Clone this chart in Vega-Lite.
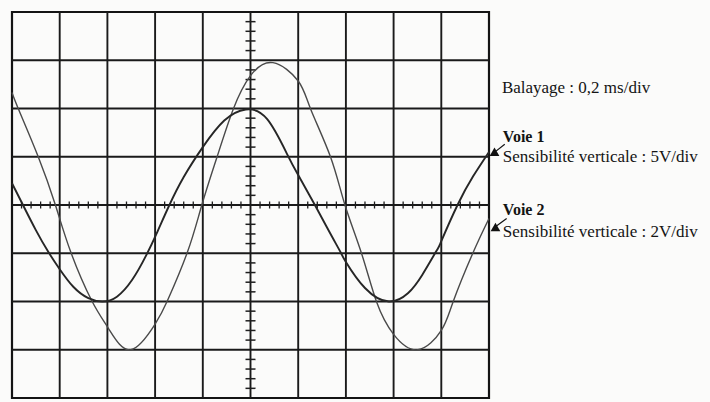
{
  "$schema": "https://vega.github.io/schema/vega-lite/v6.json",
  "width": 477,
  "height": 386,
  "autosize": "none",
  "padding": {"left": 12, "top": 12, "right": 221, "bottom": 4},
  "background": "#fbfbfa",
  "config": {"view": {"stroke": "#141414", "strokeWidth": 2.2}},
  "datasets": {
    "one": [{"k": 1}],
    "voie1": [
      {"t": 0, "u": 0.45}, {"t": 0.23, "u": 0}, {"t": 0.5, "u": -0.52}, {"t": 0.76, "u": -0.97},
      {"t": 1.0, "u": -1.33}, {"t": 1.29, "u": -1.7}, {"t": 1.6, "u": -1.93}, {"t": 1.9, "u": -2.0},
      {"t": 2.2, "u": -1.9}, {"t": 2.52, "u": -1.55}, {"t": 2.81, "u": -1.05}, {"t": 3.05, "u": -0.55},
      {"t": 3.3, "u": 0}, {"t": 3.6, "u": 0.58}, {"t": 4.0, "u": 1.2}, {"t": 4.45, "u": 1.75},
      {"t": 4.9, "u": 1.98}, {"t": 5.35, "u": 1.78}, {"t": 5.77, "u": 1.05}, {"t": 6.0, "u": 0.62},
      {"t": 6.35, "u": 0}, {"t": 6.65, "u": -0.55}, {"t": 6.9, "u": -1.0}, {"t": 7.0, "u": -1.18},
      {"t": 7.4, "u": -1.72}, {"t": 7.9, "u": -2.0}, {"t": 8.3, "u": -1.83}, {"t": 8.6, "u": -1.45},
      {"t": 8.9, "u": -0.95}, {"t": 9.0, "u": -0.75}, {"t": 9.34, "u": 0}, {"t": 9.67, "u": 0.6},
      {"t": 10, "u": 1.1}
    ],
    "voie2": [
      {"t": 0, "u": 2.33}, {"t": 0.13, "u": 2.0}, {"t": 0.55, "u": 1.0}, {"t": 0.91, "u": 0},
      {"t": 1.23, "u": -0.97}, {"t": 1.67, "u": -1.98}, {"t": 2.03, "u": -2.57}, {"t": 2.49, "u": -3.0},
      {"t": 3.0, "u": -2.47}, {"t": 3.26, "u": -1.98}, {"t": 3.68, "u": -0.97}, {"t": 3.98, "u": 0},
      {"t": 4.3, "u": 1.0}, {"t": 4.64, "u": 1.99}, {"t": 5.0, "u": 2.68}, {"t": 5.47, "u": 2.95},
      {"t": 6.0, "u": 2.57}, {"t": 6.26, "u": 1.99}, {"t": 6.68, "u": 0.99}, {"t": 6.98, "u": 0},
      {"t": 7.33, "u": -1.01}, {"t": 7.64, "u": -2.0}, {"t": 8.0, "u": -2.68}, {"t": 8.51, "u": -3.0},
      {"t": 9.0, "u": -2.6}, {"t": 9.25, "u": -2.0}, {"t": 9.66, "u": -1.0}, {"t": 10, "u": -0.28}
    ],
    "xt": [
      {"t": 0.2}, {"t": 0.4}, {"t": 0.6}, {"t": 0.8}, {"t": 1.2}, {"t": 1.4}, {"t": 1.6}, {"t": 1.8},
      {"t": 2.2}, {"t": 2.4}, {"t": 2.6}, {"t": 2.8}, {"t": 3.2}, {"t": 3.4}, {"t": 3.6}, {"t": 3.8},
      {"t": 4.2}, {"t": 4.4}, {"t": 4.6}, {"t": 4.8}, {"t": 5.2}, {"t": 5.4}, {"t": 5.6}, {"t": 5.8},
      {"t": 6.2}, {"t": 6.4}, {"t": 6.6}, {"t": 6.8}, {"t": 7.2}, {"t": 7.4}, {"t": 7.6}, {"t": 7.8},
      {"t": 8.2}, {"t": 8.4}, {"t": 8.6}, {"t": 8.8}, {"t": 9.2}, {"t": 9.4}, {"t": 9.6}, {"t": 9.8}
    ],
    "yt": [
      {"t": -3.8}, {"t": -3.6}, {"t": -3.4}, {"t": -3.2}, {"t": -2.8}, {"t": -2.6}, {"t": -2.4}, {"t": -2.2},
      {"t": -1.8}, {"t": -1.6}, {"t": -1.4}, {"t": -1.2}, {"t": -0.8}, {"t": -0.6}, {"t": -0.4}, {"t": -0.2},
      {"t": 0.2}, {"t": 0.4}, {"t": 0.6}, {"t": 0.8}, {"t": 1.2}, {"t": 1.4}, {"t": 1.6}, {"t": 1.8},
      {"t": 2.2}, {"t": 2.4}, {"t": 2.6}, {"t": 2.8}, {"t": 3.2}, {"t": 3.4}, {"t": 3.6}, {"t": 3.8}
    ],
    "gx": [{"g": 1}, {"g": 2}, {"g": 3}, {"g": 4}, {"g": 5}, {"g": 6}, {"g": 7}, {"g": 8}, {"g": 9}],
    "gy": [{"g": -3}, {"g": -2}, {"g": -1}, {"g": 0}, {"g": 1}, {"g": 2}, {"g": 3}]
  },
  "layer": [
    {
      "data": {"name": "gx"},
      "mark": {"type": "rule", "color": "#1a1a1a", "strokeWidth": 1.9},
      "encoding": {
        "x": {"field": "g", "type": "quantitative", "scale": {"domain": [0, 10], "nice": false, "zero": false}, "axis": null}
      }
    },
    {
      "data": {"name": "gy"},
      "mark": {"type": "rule", "color": "#1a1a1a", "strokeWidth": 1.9},
      "encoding": {
        "y": {"field": "g", "type": "quantitative", "scale": {"domain": [-4, 4], "nice": false, "zero": false}, "axis": null}
      }
    },
    {
      "data": {"name": "xt"},
      "mark": {"type": "tick", "orient": "vertical", "color": "#1e1e1e", "size": 7, "thickness": 1.3, "opacity": 1},
      "encoding": {
        "x": {"field": "t", "type": "quantitative", "axis": null},
        "y": {"datum": 0, "type": "quantitative", "axis": null}
      }
    },
    {
      "data": {"name": "yt"},
      "mark": {"type": "tick", "orient": "horizontal", "color": "#1e1e1e", "size": 10, "thickness": 1.5, "opacity": 1},
      "encoding": {
        "y": {"field": "t", "type": "quantitative", "axis": null},
        "x": {"datum": 5, "type": "quantitative", "axis": null}
      }
    },
    {
      "data": {"name": "voie2"},
      "mark": {"type": "line", "interpolate": "natural", "stroke": "#4a4a4a", "strokeWidth": 1.4},
      "encoding": {
        "x": {"field": "t", "type": "quantitative", "axis": null},
        "y": {"field": "u", "type": "quantitative", "axis": null}
      }
    },
    {
      "data": {"name": "voie1"},
      "mark": {"type": "line", "interpolate": "natural", "stroke": "#262626", "strokeWidth": 1.9},
      "encoding": {
        "x": {"field": "t", "type": "quantitative", "axis": null},
        "y": {"field": "u", "type": "quantitative", "axis": null}
      }
    },
    {
      "data": {"name": "one"},
      "mark": {"type": "rule", "color": "#111", "strokeWidth": 1.2},
      "encoding": {
        "x": {"datum": 10.1, "type": "quantitative", "axis": null}, "y": {"datum": 1.08, "type": "quantitative", "axis": null},
        "x2": {"datum": 10.33}, "y2": {"datum": 1.26}
      }
    },
    {
      "data": {"name": "one"},
      "mark": {"type": "rule", "color": "#111", "strokeWidth": 1.2},
      "encoding": {
        "x": {"datum": 10.12, "type": "quantitative", "axis": null}, "y": {"datum": -0.46, "type": "quantitative", "axis": null},
        "x2": {"datum": 10.37}, "y2": {"datum": -0.28}
      }
    },
    {
      "data": {"name": "one"},
      "mark": {"type": "point", "shape": "triangle-up", "filled": true, "color": "#111", "opacity": 1, "size": 95, "angle": 240},
      "encoding": {"x": {"datum": 10.09, "type": "quantitative", "axis": null}, "y": {"datum": 1.06, "type": "quantitative", "axis": null}}
    },
    {
      "data": {"name": "one"},
      "mark": {"type": "point", "shape": "triangle-up", "filled": true, "color": "#111", "opacity": 1, "size": 95, "angle": 240},
      "encoding": {"x": {"datum": 10.11, "type": "quantitative", "axis": null}, "y": {"datum": -0.5, "type": "quantitative", "axis": null}}
    },
    {
      "data": {"name": "one"},
      "mark": {"type": "text", "text": "Balayage : 0,2 ms/div", "font": "Liberation Serif", "fontSize": 17, "align": "left", "baseline": "alphabetic", "color": "#141414"},
      "encoding": {"x": {"datum": 10.27, "type": "quantitative", "axis": null}, "y": {"datum": 2.32, "type": "quantitative", "axis": null}}
    },
    {
      "data": {"name": "one"},
      "mark": {"type": "text", "text": "Voie 1", "font": "Liberation Serif", "fontSize": 16, "fontWeight": "bold", "align": "left", "baseline": "alphabetic", "color": "#141414"},
      "encoding": {"x": {"datum": 10.29, "type": "quantitative", "axis": null}, "y": {"datum": 1.3, "type": "quantitative", "axis": null}}
    },
    {
      "data": {"name": "one"},
      "mark": {"type": "text", "text": "Sensibilité verticale : 5V/div", "font": "Liberation Serif", "fontSize": 17, "align": "left", "baseline": "alphabetic", "color": "#141414"},
      "encoding": {"x": {"datum": 10.29, "type": "quantitative", "axis": null}, "y": {"datum": 0.9, "type": "quantitative", "axis": null}}
    },
    {
      "data": {"name": "one"},
      "mark": {"type": "text", "text": "Voie 2", "font": "Liberation Serif", "fontSize": 16, "fontWeight": "bold", "align": "left", "baseline": "alphabetic", "color": "#141414"},
      "encoding": {"x": {"datum": 10.29, "type": "quantitative", "axis": null}, "y": {"datum": -0.21, "type": "quantitative", "axis": null}}
    },
    {
      "data": {"name": "one"},
      "mark": {"type": "text", "text": "Sensibilité verticale : 2V/div", "font": "Liberation Serif", "fontSize": 17, "align": "left", "baseline": "alphabetic", "color": "#141414"},
      "encoding": {"x": {"datum": 10.29, "type": "quantitative", "axis": null}, "y": {"datum": -0.67, "type": "quantitative", "axis": null}}
    }
  ]
}
